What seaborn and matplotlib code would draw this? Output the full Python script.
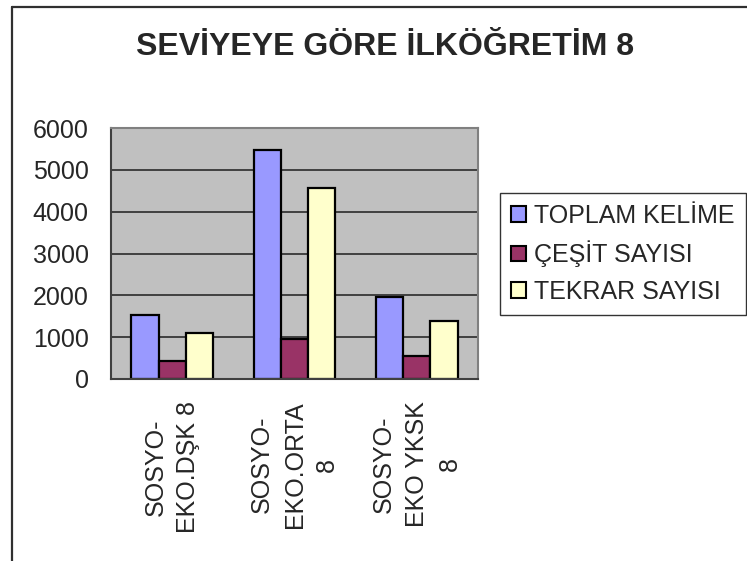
import numpy as np
import pandas as pd
import matplotlib
matplotlib.use("Agg")
import matplotlib.pyplot as plt
import matplotlib.ticker as mticker
from matplotlib.patches import Patch
from matplotlib.lines import Line2D
import seaborn as sns

# data
categories = ["SOSYO-\nEKO.DŞK 8", "SOSYO-\nEKO.ORTA\n8", "SOSYO-\nEKO YKSK\n8"]
series = ["TOPLAM KELİME", "ÇEŞİT SAYISI", "TEKRAR SAYISI"]
toplam = [1530, 5470, 1960]
cesit = [420, 950, 560]
tekrar = [1100, 4560, 1380]
colors = ["#9999FF", "#993366", "#FFFFCC"]

df = pd.DataFrame({
    "kategori": categories * 3,
    "seri": [s for s in series for _ in categories],
    "deger": toplam + cesit + tekrar,
})

sns.set_style("white")
plt.rcParams['font.family'] = ['Liberation Sans', 'DejaVu Sans']

fig = plt.figure(figsize=(7.47, 5.61), dpi=100)
ax = fig.add_axes([111 / 747, 1 - 379 / 561, 367 / 747, 251 / 561])

sns.barplot(data=df, x="kategori", y="deger", hue="seri", palette=colors,
            width=0.67, edgecolor="black", linewidth=1.6, ax=ax, legend=False,
            saturation=1)

ax.set_facecolor("#C0C0C0")
ax.set_ylim(0, 6000)
ax.set_xlim(-0.5, 2.5)
ax.yaxis.set_major_locator(mticker.MultipleLocator(1000))
ax.grid(axis="y", color="#404040", lw=1.4)
ax.set_axisbelow(True)
ax.set_xlabel("")
ax.set_ylabel("")

# tick marks between categories, labels at centres
ax.set_xticks([-0.5, 0.5, 1.5, 2.5])
ax.set_xticklabels([])
ax.set_xticks([0, 1, 2], minor=True)
ax.set_xticklabels(categories, minor=True, rotation=90, ha="center", va="top",
                   multialignment="center", fontsize=18, linespacing=1.45)
ax.tick_params(axis="x", which="minor", length=0, pad=16)
ax.tick_params(axis="x", which="major", length=7, width=1.2, color="#404040", direction="out")
ax.tick_params(axis="y", length=6, width=1.2, color="#404040", direction="out", labelsize=18, pad=10)

for side in ["top", "right"]:
    ax.spines[side].set_color("#808080")
    ax.spines[side].set_linewidth(1.5)
for side in ["left", "bottom"]:
    ax.spines[side].set_color("#404040")
    ax.spines[side].set_linewidth(1.5)
    ax.spines[side].set_visible(True)

fig.text(385 / 747, 1 - 47 / 561, "SEVİYEYE GÖRE İLKÖĞRETİM 8", ha="center", va="center",
         fontsize=23, fontweight="bold")

handles = [Patch(facecolor=c, edgecolor="black", linewidth=1.5) for c in colors]
leg = ax.legend(handles, series, loc="center left", bbox_to_anchor=(500 / 747, 1 - 254 / 561),
                bbox_transform=fig.transFigure, fontsize=18, frameon=True, fancybox=False,
                edgecolor="black", handlelength=0.6, handleheight=0.6, handletextpad=0.3,
                labelspacing=0.5, borderpad=0.45, borderaxespad=0)
leg.get_frame().set_linewidth(1.0)

# outer chart frame (left and top edges visible)
fig.add_artist(Line2D([12 / 747, 12 / 747], [0, 1 - 7 / 561], color="#303030", lw=1.6))
fig.add_artist(Line2D([12 / 747, 1], [1 - 7 / 561, 1 - 7 / 561], color="#303030", lw=1.6))

fig.savefig("out.png", dpi=100)
